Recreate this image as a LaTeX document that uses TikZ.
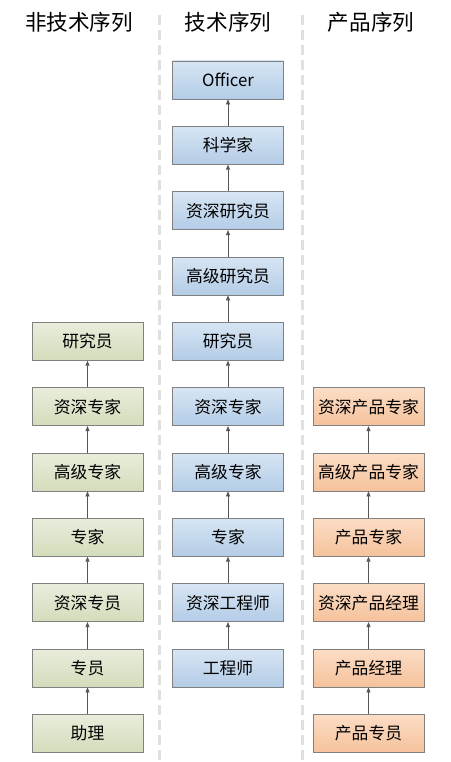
\documentclass[tikz,border=0pt]{standalone}
\usepackage{fontspec}
\setmainfont{Noto Sans CJK SC}
\usetikzlibrary{arrows.meta}
\definecolor{bordergray}{HTML}{808080}
\definecolor{arrowgray}{HTML}{555555}
\definecolor{sepgray}{HTML}{E0E0E0}
\definecolor{gtop}{HTML}{E9EDDC}
\definecolor{gbot}{HTML}{D3DCBB}
\definecolor{btop}{HTML}{D7E5F4}
\definecolor{bbot}{HTML}{B3CCE6}
\definecolor{otop}{HTML}{FCDDC6}
\definecolor{obot}{HTML}{F5C29B}
\tikzset{
  rank/.style={draw=bordergray, line width=0.8pt, minimum width=111pt, minimum height=38pt, inner sep=0pt, font=\fontsize{16.8}{18}\selectfont, text=black},
  greenbox/.style={rank, top color=gtop, bottom color=gbot},
  bluebox/.style={rank, top color=btop, bottom color=bbot},
  orangebox/.style={rank, top color=otop, bottom color=obot},
  up/.style={draw=arrowgray, line width=0.7pt, -{Triangle[length=5pt,width=4pt]}},
  header/.style={font=\fontsize{21.6}{24}\selectfont, text=black},
  sep/.style={draw=sepgray, line width=3pt, dash pattern=on 10pt off 5pt}
}
\begin{document}
\begin{tikzpicture}[x=1pt,y=1pt]
\useasboundingbox (0,0) rectangle (450,-762);
\fill[white] (0,0) rectangle (450,-762);
% separators
\draw[sep] (159,-15) -- (159,-762);
\draw[sep] (302,-15) -- (302,-762);
% headers
\node[header] (h1) at (79,-22) {非技术序列};
\node[header] (h2) at (228,-22) {技术序列};
\node[header] (h3) at (371,-22) {产品序列};
% center column
\node[bluebox] (c0) at (228,-80) {Officer};
\node[bluebox] (c1) at (228,-145.3) {科学家};
\node[bluebox] (c2) at (228,-210.7) {资深研究员};
\node[bluebox] (c3) at (228,-276) {高级研究员};
\node[bluebox] (c4) at (228,-341.3) {研究员};
\node[bluebox] (c5) at (228,-406.7) {资深专家};
\node[bluebox] (c6) at (228,-472) {高级专家};
\node[bluebox] (c7) at (228,-537.3) {专家};
\node[bluebox] (c8) at (228,-602.7) {资深工程师};
\node[bluebox] (c9) at (228,-668) {工程师};
% left column
\node[greenbox] (l4) at (87.5,-341.3) {研究员};
\node[greenbox] (l5) at (87.5,-406.7) {资深专家};
\node[greenbox] (l6) at (87.5,-472) {高级专家};
\node[greenbox] (l7) at (87.5,-537.3) {专家};
\node[greenbox] (l8) at (87.5,-602.7) {资深专员};
\node[greenbox] (l9) at (87.5,-668) {专员};
\node[greenbox] (l10) at (87.5,-733.3) {助理};
% right column
\node[orangebox] (r5) at (368.5,-406.7) {资深产品专家};
\node[orangebox] (r6) at (368.5,-472) {高级产品专家};
\node[orangebox] (r7) at (368.5,-537.3) {产品专家};
\node[orangebox] (r8) at (368.5,-602.7) {资深产品经理};
\node[orangebox] (r9) at (368.5,-668) {产品经理};
\node[orangebox] (r10) at (368.5,-733.3) {产品专员};
% arrows
\foreach \a/\b in {c1/c0,c2/c1,c3/c2,c4/c3,c5/c4,c6/c5,c7/c6,c8/c7,c9/c8,
  l5/l4,l6/l5,l7/l6,l8/l7,l9/l8,l10/l9,
  r6/r5,r7/r6,r8/r7,r9/r8,r10/r9}
  \draw[up] (\a.north) -- (\b.south);
\end{tikzpicture}
\end{document}
